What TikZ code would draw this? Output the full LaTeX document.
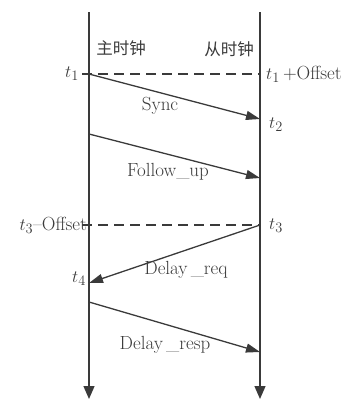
\documentclass[tikz,border=0pt]{standalone}
\usepackage{fontspec}
\newfontfamily\cjk{Noto Sans CJK SC}
\usetikzlibrary{arrows.meta}
\definecolor{ink}{HTML}{3A3A3A}
\begin{document}
\begin{tikzpicture}[x=1pt,y=-1pt,
  every node/.style={text=ink,font=\fontsize{19}{22}\selectfont,inner sep=1pt},
  cjklabel/.style={font=\cjk\fontsize{16.5}{20}\selectfont},
  lifeline/.style={draw=ink,line width=1.3pt,-{Triangle[length=13pt,width=11pt]}},
  msg/.style={draw=ink,line width=1.3pt,-{Triangle[length=14pt,width=9pt]}},
  ref/.style={draw=ink,line width=1.2pt,dash pattern=on 10pt off 6pt}]
\useasboundingbox (0,0) rectangle (342,400);
% lifeline endpoints
\coordinate (Ltop) at (89,12);
\coordinate (Lbot) at (89,399);
\coordinate (Rtop) at (260,12);
\coordinate (Rbot) at (260,399);
\draw[lifeline] (Ltop) -- (Lbot);
\draw[lifeline] (Rtop) -- (Rbot);
% headings
\node[cjklabel] (master) at (121,48) {主时钟};
\node[cjklabel] (slave) at (229,49) {从时钟};
% event points
\coordinate (t1) at (89,74);
\coordinate (t1o) at (260,74);
\coordinate (t1tick) at (82,74);
\coordinate (t2) at (260,119);
\coordinate (fu0) at (89,134);
\coordinate (fu1) at (260,178);
\coordinate (t3) at (260,225);
\coordinate (t3o) at (89,225);
\coordinate (t3tick) at (82,225);
\coordinate (t4) at (89,283);
\coordinate (dr0) at (89,302);
\coordinate (dr1) at (260,352);
% reference lines
\draw[ref] (t1tick) -- (t1o);
\draw[ref] (t3tick) -- (t3);
% messages
\draw[msg] (t1) -- (t2);
\draw[msg] (fu0) -- (fu1);
\draw[msg] (t3) -- (t4);
\draw[msg] (dr0) -- (dr1);
% labels
\node (lt1) at (72,74) {$t_1$};
\node[anchor=west] (lt1o) at (265,74) {$t_1$\,+Offset};
\node (lt2) at (276,125) {$t_2$};
\node (lsync) at (160,106) {Sync};
\node (lfu) at (168,172) {Follow\_up};
\node[anchor=east] (lt3o) at (88,225) {$t_3$--Offset};
\node (lt3) at (276,226) {$t_3$};
\node (ldq) at (186,270) {Delay\,\_req};
\node (lt4) at (79,279) {$t_4$};
\node (ldr) at (165,345) {Delay\,\_resp};
\end{tikzpicture}
\end{document}
